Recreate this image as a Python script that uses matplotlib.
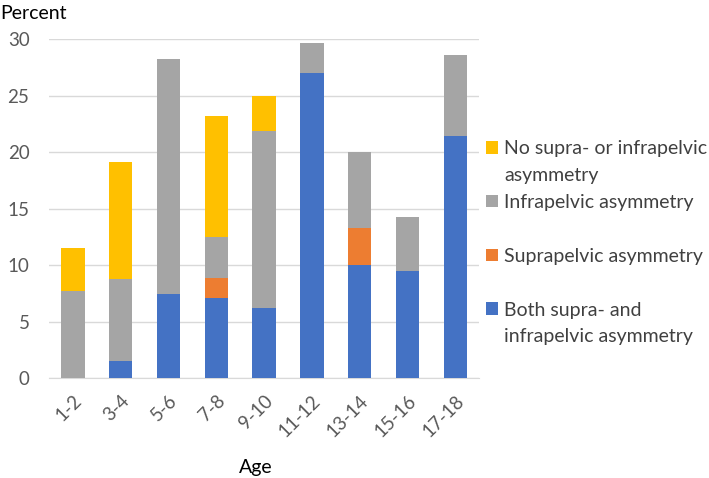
import matplotlib.pyplot as plt
import numpy as np
from matplotlib.patches import Patch

plt.rcParams["font.family"] = ["Lato", "DejaVu Sans"]

ages = ["1-2", "3-4", "5-6", "7-8", "9-10", "11-12", "13-14", "15-16", "17-18"]
both_asym = [0.0, 1.5, 7.5, 7.1, 6.25, 27.0, 10.0, 9.5, 21.4]
supra_asym = [0.0, 0.0, 0.0, 1.8, 0.0, 0.0, 3.3, 0.0, 0.0]
infra_asym = [7.7, 7.3, 20.8, 3.6, 15.6, 2.7, 6.7, 4.8, 7.2]
no_asym = [3.8, 10.3, 0.0, 10.7, 3.1, 0.0, 0.0, 0.0, 0.0]

# each legend label is split into its printed lines (Excel wraps them)
series = [
    (["Both supra- and", "infrapelvic asymmetry"], both_asym, "#4472C4"),
    (["Suprapelvic asymmetry", ""], supra_asym, "#ED7D31"),
    (["Infrapelvic asymmetry", ""], infra_asym, "#A5A5A5"),
    (["No supra- or infrapelvic", "asymmetry"], no_asym, "#FFC000"),
]

fig = plt.figure(figsize=(7.09, 4.78), dpi=100)
ax = fig.add_axes([0.069, 0.2086, 0.607, 0.7092])

x = np.arange(len(ages))
bottom = np.zeros(len(ages))
handles = []
for lines, values, color in series:
    bars = ax.bar(x, values, width=0.49, bottom=bottom, color=color, zorder=3)
    handles.append(bars)
    bottom += np.array(values)

ax.set_xlim(-0.5, len(ages) - 0.5)
ax.set_ylim(0, 30)
ax.set_yticks(range(0, 31, 5))
ax.set_xticks(x)
ax.set_xticklabels(ages, rotation=45, ha="right", rotation_mode="anchor")
ax.grid(axis="y", color="#D9D9D9", linewidth=1, zorder=0)
for side in ["top", "right", "left"]:
    ax.spines[side].set_visible(False)
ax.spines["bottom"].set_color("#D9D9D9")
ax.tick_params(axis="both", length=0, labelsize=13.5, colors="#595959")
ax.tick_params(axis="x", pad=10)
ax.tick_params(axis="y", pad=14)

fig.text(0.0, 0.99, "Percent", fontsize=14, va="top", ha="left", color="black")
fig.text(0.361, 0.021, "Age", fontsize=14, va="center", ha="center", color="black")

# legend rows: swatch on the first line, blank swatch on continuation lines
blank = Patch(facecolor="none", edgecolor="none")
leg_handles, leg_labels = [], []
for (lines, values, color), h in list(zip(series, handles))[::-1]:
    leg_handles += [h, blank]
    leg_labels += lines

fig.legend(
    leg_handles,
    leg_labels,
    loc="upper left",
    bbox_to_anchor=(0.686, 0.707),
    frameon=False,
    fontsize=14,
    borderpad=0,
    borderaxespad=0,
    handlelength=0.62,
    handleheight=0.62,
    handletextpad=0.3,
    labelspacing=0.51,
    labelcolor="#404040",
)

fig.savefig("out.png", dpi=100)
